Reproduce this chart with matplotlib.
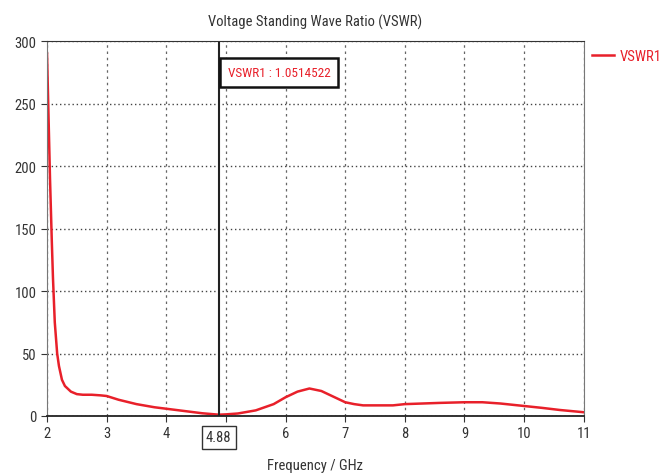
import matplotlib
matplotlib.use('Agg')
from matplotlib import pyplot as plt
from matplotlib import font_manager

names = set(f.name for f in font_manager.fontManager.ttflist)
narrow = [n for n in ['Liberation Sans Narrow', 'Roboto Condensed', 'PT Sans Narrow',
                      'Open Sans Condensed', 'Archivo Narrow'] if n in names]
plt.rcParams['font.family'] = narrow[:1] + ['DejaVu Sans']
plt.rcParams['font.stretch'] = 'condensed'

# values
freq = [2.0, 2.02, 2.05, 2.08, 2.1, 2.13, 2.17, 2.2, 2.25, 2.3, 2.4, 2.5, 2.6, 2.75,
        2.9, 3.0, 3.2, 3.5, 3.8, 4.0, 4.3, 4.6, 4.88, 5.0, 5.2, 5.5, 5.8, 6.0,
        6.2, 6.4, 6.6, 6.8, 7.0, 7.15, 7.3, 7.6, 7.8, 8.0, 8.3, 8.6, 9.0, 9.3,
        9.6, 10.0, 10.3, 10.6, 11.0]
vswr = [290, 250, 190, 140, 110, 75, 50, 40, 29, 24, 19.5, 17.5, 17, 17,
        16.5, 16, 13, 9.5, 7, 5.8, 4, 2.2, 1.05, 1.3, 2, 4.5, 9.5, 15,
        19.5, 22, 20, 15.5, 11, 9.5, 8.5, 8.5, 8.5, 9.5, 10, 10.5, 11, 11,
        10, 8, 6.5, 4.8, 3]

xticks = [2, 3, 4, 5, 6, 7, 8, 9, 10, 11]
xticklabels = ['2', '3', '4', '', '6', '7', '8', '9', '10', '11']
marker_x = 4.88
marker_text = 'VSWR1 : 1.0514522'

red = '#e8202a'
fs = 10.5
fig = plt.figure(figsize=(6.68, 4.77), dpi=100)
ax = fig.add_axes([0.0704, 0.1258, 0.8035, 0.786])

ax.plot(freq, vswr, color=red, lw=1.8, label='VSWR1')
ax.set_xlim(2, 11)
ax.set_ylim(0, 300)
ax.set_xticks(xticks)
ax.set_xticklabels(xticklabels)
ax.set_yticks(range(0, 301, 50))
ax.xaxis.grid(True, color='#666666', ls=(0, (2, 3)), lw=0.9)
ax.yaxis.grid(True, color='#444444', ls=(0, (1, 2)), lw=1.0)
ax.tick_params(labelsize=fs, length=4, color='#333333', colors='#333333')
for s in ['left', 'right']:
    ax.spines[s].set_color('#777777')
ax.spines['top'].set_color('#333333')
ax.spines['bottom'].set_color('#222222')
ax.spines['bottom'].set_linewidth(1.3)

ax.axvline(marker_x, color='#222222', lw=1.5)
ax.text(marker_x, -17, '%.2f' % marker_x, ha='center', va='center', fontsize=fs,
        color='#333333', transform=ax.transData, clip_on=False,
        bbox=dict(boxstyle='square,pad=0.3', fc='white', ec='#333333', lw=1))
ax.text(marker_x + 0.15, 275, marker_text, ha='left', va='center', fontsize=9.5,
        color=red,
        bbox=dict(boxstyle='square,pad=0.6', fc='white', ec='#111111', lw=1.8))

ax.set_title('Voltage Standing Wave Ratio (VSWR)', fontsize=fs, pad=11, color='#333333')
ax.set_xlabel('Frequency / GHz', fontsize=fs, labelpad=13, color='#333333')

leg = ax.legend(loc='upper left', bbox_to_anchor=(1.005, 0.995), frameon=False,
                fontsize=fs, handlelength=1.5, handletextpad=0.35, borderaxespad=0)
for t in leg.get_texts():
    t.set_color(red)

fig.savefig('out.png', dpi=100)
